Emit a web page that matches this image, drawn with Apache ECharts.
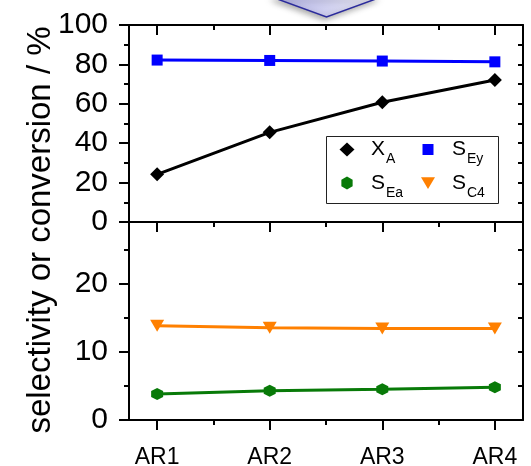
<!DOCTYPE html>
<html><head><meta charset="utf-8">
<script src="https://cdn.jsdelivr.net/npm/echarts@6/dist/echarts.min.js"></script>
<style>html,body{margin:0;padding:0;background:#fff}#c{width:531px;height:466px}</style>
</head><body><div id="c"></div>
<script>
// ---- data ----
const categories = ['AR1', 'AR2', 'AR3', 'AR4'];
const xA  = [24.2, 45.5, 60.8, 72.1];   // X_A  (top panel)
const sEy = [82.2, 82.0, 81.7, 81.3];   // S_Ey (top panel)
const sEa = [3.8, 4.3, 4.5, 4.8];       // S_Ea (bottom panel)
const sC4 = [13.8, 13.5, 13.4, 13.4];   // S_C4 (bottom panel)
const topRange = [0, 100];
const topMajor = 20, topMinor = 10;
const bottomRange = [0, 29];
const bottomMajor = 10, bottomMinor = 5;
const yTitle = 'selectivity or conversion / %';

// ---- build ----
const FONT = '"Liberation Sans", Arial, sans-serif';
const STEP = 4;
const padded = [];
for (let i = 0; i < STEP * categories.length - 1; i++) {
  padded.push(i % STEP === 1 ? categories[(i - 1) / STEP] : '_' + i);
}
const pos = i => 1 + STEP * i;
const isMajor = i => i % STEP === 1;
const isMinor = i => i % STEP === 3;
const blk = { color: '#000', width: 2 };

function xAx(grid, position, opts) {
  return Object.assign({
    type: 'category', gridIndex: grid, position: position, data: padded, boundaryGap: false,
    axisLine: { show: false, onZero: false, lineStyle: blk },
    axisTick: { show: false },
    axisLabel: { show: false },
    splitLine: { show: false }
  }, opts);
}

const sub = { XA: ['X', 'A'], SEy: ['S', 'Ey'], SEa: ['S', 'Ea'], SC4: ['S', 'C4'] };
const P = 'path://M0,0M16,16';
const icons = {
  XA: P + 'M8,1L15.5,8L8,15L0.5,8Z',
  SEy: P + 'M2.5,2.5H13.5V13.5H2.5Z',
  SEa: P + 'M8,1.5L13.63,4.75L13.63,11.25L8,14.5L2.37,11.25L2.37,4.75Z',
  SC4: P + 'M1,2.2L15,2.2L8,13.9Z'
};
const hexSym = 'path://M8,1.5L13.63,4.75L13.63,11.25L8,14.5L2.37,11.25L2.37,4.75Z';

function legendCol(left, names) {
  return {
    left: left, top: 139, orient: 'vertical', padding: 0,
    itemGap: 6, itemWidth: 16, itemHeight: 16,
    selectedMode: false,
    data: names.map(n => ({ name: n, icon: icons[n] })),
    formatter: n => '{m|' + sub[n][0] + '}{s|' + sub[n][1] + '}',
    textStyle: {
      lineHeight: 20,
      rich: {
        m: { fontSize: 21, fontFamily: FONT, color: '#000', padding: [0, 0, 0, 11] },
        s: { fontSize: 14, fontFamily: FONT, color: '#000', height: 1,
             verticalAlign: 'top', padding: [19.5, 0, 0, 1] }
      }
    }
  };
}

const chart = echarts.init(document.getElementById('c'));
chart.setOption({
  animation: false,
  backgroundColor: '#fff',
  textStyle: { fontFamily: FONT },
  grid: [
    { left: 129, right: 8, top: 25, height: 197, outerBoundsMode: 'none', containLabel: false },
    { left: 129, right: 8, top: 222, height: 198, outerBoundsMode: 'none', containLabel: false }
  ],
  xAxis: [
    xAx(0, 'bottom', { axisLine: { show: true, onZero: false, lineStyle: blk },
      axisTick: { show: true, length: 10, lineStyle: blk, interval: isMajor } }),
    xAx(0, 'bottom', { axisTick: { show: true, length: 5, lineStyle: blk, interval: isMinor } }),
    xAx(0, 'top', { axisLine: { show: true, onZero: false, lineStyle: blk },
      axisTick: { show: true, inside: true, length: 10, lineStyle: blk, interval: isMajor } }),
    xAx(0, 'top', { axisTick: { show: true, inside: true, length: 5, lineStyle: blk, interval: isMinor } }),
    xAx(1, 'bottom', { axisLine: { show: true, onZero: false, lineStyle: blk },
      axisTick: { show: true, length: 10, lineStyle: blk, interval: isMajor },
      axisLabel: { show: true, interval: isMajor, fontSize: 23, color: '#000', margin: 26, fontFamily: FONT } }),
    xAx(1, 'bottom', { axisTick: { show: true, length: 5, lineStyle: blk, interval: isMinor } })
  ],
  yAxis: [
    { type: 'value', gridIndex: 0, position: 'left', min: topRange[0], max: topRange[1], interval: topMajor,
      axisLine: { show: true, onZero: false, lineStyle: blk },
      axisTick: { show: true, length: 10, lineStyle: blk },
      minorTick: { show: true, splitNumber: topMajor / topMinor, length: 5, lineStyle: blk },
      axisLabel: { fontSize: 30, color: '#000', margin: 21, fontFamily: FONT },
      splitLine: { show: false } },
    { type: 'value', gridIndex: 0, position: 'right', min: topRange[0], max: topRange[1], interval: topMinor,
      axisLine: { show: true, onZero: false, lineStyle: blk },
      axisTick: { show: true, inside: true, length: 5, lineStyle: blk },
      axisLabel: { show: false }, splitLine: { show: false } },
    { type: 'value', gridIndex: 1, position: 'left', min: bottomRange[0], max: bottomRange[1], interval: bottomMajor,
      axisLine: { show: true, onZero: false, lineStyle: blk },
      axisTick: { show: true, length: 10, lineStyle: blk },
      axisLabel: { fontSize: 30, color: '#000', margin: 21, fontFamily: FONT, showMaxLabel: false },
      splitLine: { show: false } },
    { type: 'value', gridIndex: 1, position: 'left', min: bottomRange[0], max: bottomRange[1], interval: bottomMinor,
      axisLine: { show: false, onZero: false },
      axisTick: { show: true, length: 5, lineStyle: blk },
      axisLabel: { show: false }, splitLine: { show: false } },
    { type: 'value', gridIndex: 1, position: 'right', min: bottomRange[0], max: bottomRange[1], interval: bottomMinor,
      axisLine: { show: true, onZero: false, lineStyle: blk },
      axisTick: { show: true, inside: true, length: 5, lineStyle: blk },
      axisLabel: { show: false }, splitLine: { show: false } }
  ],
  legend: [legendCol(339, ['XA', 'SEa']), legendCol(420, ['SEy', 'SC4'])],
  graphic: [
    { type: 'polygon', z: -10, silent: true,
      shape: { points: [[274.5, -2], [378.5, -2], [326.5, 17]] },
      style: {
        fill: new echarts.graphic.LinearGradient(0, 0, 1, 0, [
          { offset: 0, color: '#b2b2e6' }, { offset: 1, color: '#eeeef9' }]),
        stroke: '#2b2b9c', lineWidth: 1.5,
        shadowBlur: 6, shadowColor: 'rgba(0,0,0,0.35)', shadowOffsetX: -2, shadowOffsetY: 2
      } },
    { type: 'rect', z: 3, silent: true,
      shape: { x: 326.5, y: 136.5, width: 172, height: 67 },
      style: { fill: '#fff', stroke: '#222', lineWidth: 1 } },
    { type: 'text', x: 41, y: 230, rotation: Math.PI / 2, silent: true,
      style: { text: yTitle, font: '33px ' + FONT, fill: '#000',
        align: 'center', verticalAlign: 'middle', textAlign: 'center', textVerticalAlign: 'middle' } }
  ],
  series: [
    { name: 'XA', type: 'line', xAxisIndex: 0, yAxisIndex: 0,
      data: xA.map((v, i) => [pos(i), v]),
      symbol: 'diamond', symbolSize: 14, itemStyle: { color: '#000' },
      lineStyle: { color: '#000', width: 3 } },
    { name: 'SEy', type: 'line', xAxisIndex: 0, yAxisIndex: 0,
      data: sEy.map((v, i) => [pos(i), v]),
      symbol: 'rect', symbolSize: 11, itemStyle: { color: '#0000ff' },
      lineStyle: { color: '#0000ff', width: 3 } },
    { name: 'SEa', type: 'line', xAxisIndex: 4, yAxisIndex: 2,
      data: sEa.map((v, i) => [pos(i), v]),
      symbol: hexSym, symbolSize: 12, itemStyle: { color: '#087a08' },
      lineStyle: { color: '#087a08', width: 3 } },
    { name: 'SC4', type: 'line', xAxisIndex: 4, yAxisIndex: 2,
      data: sC4.map((v, i) => [pos(i), v]),
      symbol: 'triangle', symbolRotate: 180, symbolSize: [14, 12], itemStyle: { color: '#ff8000' },
      lineStyle: { color: '#ff8000', width: 3 } }
  ]
});
</script>
</body></html>
